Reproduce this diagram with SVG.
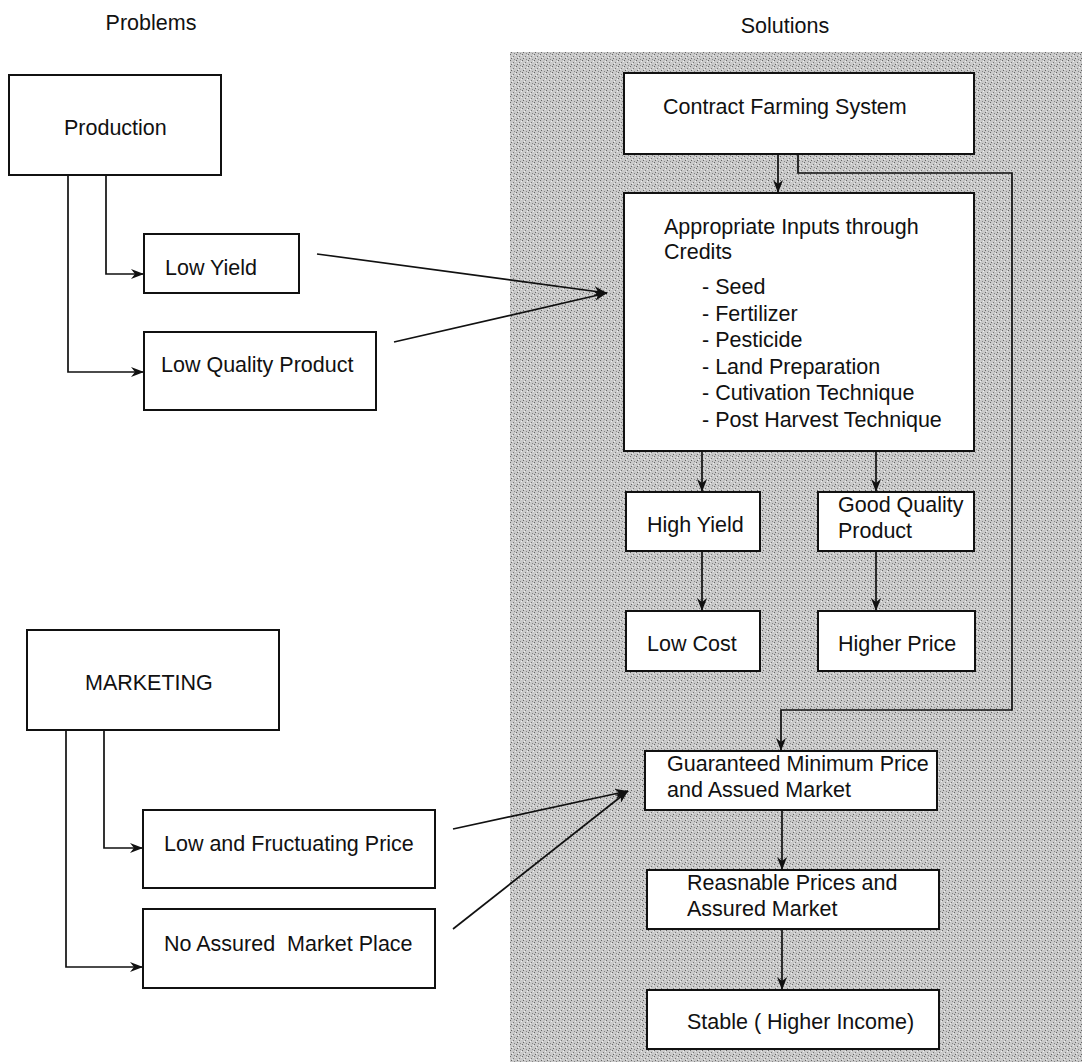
<svg xmlns="http://www.w3.org/2000/svg" width="1082" height="1062" viewBox="0 0 1082 1062">
<style>
.box{fill:#fff;stroke:#111;stroke-width:2}
.t{font-family:"Liberation Sans",Arial,sans-serif;font-size:21.5px;fill:#111;white-space:pre}
.c{fill:none;stroke:#111;stroke-width:1.7}
</style>
<defs>
<pattern id="stip" width="6" height="6" patternUnits="userSpaceOnUse">
<rect width="6" height="6" fill="#c9c9c9"/>
<rect x="0" y="0" width="1" height="1" fill="#666"/>
<rect x="3" y="2" width="1" height="1" fill="#777"/>
<rect x="1" y="4" width="1" height="1" fill="#666"/>
<rect x="4" y="5" width="1" height="1" fill="#888"/>
<rect x="5" y="1" width="1" height="1" fill="#eee"/>
<rect x="2" y="3" width="1" height="1" fill="#eee"/>
</pattern>
<marker id="ah" markerUnits="userSpaceOnUse" markerWidth="14" markerHeight="10" refX="13" refY="5" orient="auto">
<path d="M0,0 L13,5 L0,10 L4,5 Z" fill="#111"/>
</marker>
</defs>
<rect x="0" y="0" width="1082" height="1062" fill="#fff"/>
<rect x="510" y="52" width="572" height="1010" fill="url(#stip)"/>
<text class="t" x="151" y="30" text-anchor="middle">Problems</text>
<text class="t" x="785" y="33" text-anchor="middle">Solutions</text>
<g id="connectors">
<polyline class="c" points="106,175 106,274 144,274" marker-end="url(#ah)"/>
<polyline class="c" points="68,175 68,372 144,372" marker-end="url(#ah)"/>
<line class="c" x1="317" y1="254" x2="607" y2="293" marker-end="url(#ah)"/>
<line class="c" x1="394" y1="342" x2="607" y2="293" marker-end="url(#ah)"/>
<polyline class="c" points="104,730 104,848 143,848" marker-end="url(#ah)"/>
<polyline class="c" points="66,730 66,967 143,967" marker-end="url(#ah)"/>
<line class="c" x1="453" y1="829" x2="628" y2="791" marker-end="url(#ah)"/>
<line class="c" x1="453" y1="929" x2="628" y2="791" marker-end="url(#ah)"/>
<line class="c" x1="778" y1="154" x2="778" y2="193" marker-end="url(#ah)"/>
<polyline class="c" points="798,154 798,173 1012,173 1012,710 781,710 781,751" marker-end="url(#ah)"/>
<line class="c" x1="702" y1="451" x2="702" y2="492" marker-end="url(#ah)"/>
<line class="c" x1="876" y1="451" x2="876" y2="492" marker-end="url(#ah)"/>
<line class="c" x1="702" y1="551" x2="702" y2="611" marker-end="url(#ah)"/>
<line class="c" x1="876" y1="551" x2="876" y2="611" marker-end="url(#ah)"/>
<line class="c" x1="782" y1="810" x2="782" y2="870" marker-end="url(#ah)"/>
<line class="c" x1="782" y1="929" x2="782" y2="990" marker-end="url(#ah)"/>
</g>
<g id="production"><rect class="box" x="9" y="75" width="212" height="100"/><text class="t" x="64" y="135">Production</text></g>
<g id="low-yield"><rect class="box" x="144" y="234" width="155" height="59"/><text class="t" x="165" y="275">Low Yield</text></g>
<g id="low-quality"><rect class="box" x="144" y="332" width="232" height="78"/><text class="t" x="161" y="372">Low Quality Product</text></g>
<g id="marketing"><rect class="box" x="27" y="630" width="252" height="100"/><text class="t" x="85" y="690">MARKETING</text></g>
<g id="low-price"><rect class="box" x="143" y="810" width="292" height="78"/><text class="t" x="164" y="851">Low and Fructuating Price</text></g>
<g id="no-market"><rect class="box" x="143" y="909" width="292" height="79"/><text class="t" x="164" y="951" xml:space="preserve">No Assured  Market Place</text></g>
<g id="contract"><rect class="box" x="624" y="73" width="350" height="81"/><text class="t" x="663" y="114">Contract Farming System</text></g>
<g id="inputs"><rect class="box" x="624" y="193" width="350" height="258"/>
<text class="t" x="664" y="234">Appropriate Inputs through</text>
<text class="t" x="664" y="259">Credits</text>
<text class="t" x="702" y="294">- Seed</text>
<text class="t" x="702" y="321">- Fertilizer</text>
<text class="t" x="702" y="347">- Pesticide</text>
<text class="t" x="702" y="374">- Land Preparation</text>
<text class="t" x="702" y="400">- Cutivation Technique</text>
<text class="t" x="702" y="427">- Post Harvest Technique</text>
</g>
<g id="high-yield"><rect class="box" x="626" y="492" width="134" height="59"/><text class="t" x="647" y="532">High Yield</text></g>
<g id="good-quality"><rect class="box" x="818" y="492" width="156" height="59"/><text class="t" x="838" y="512">Good Quality</text><text class="t" x="838" y="538">Product</text></g>
<g id="low-cost"><rect class="box" x="626" y="611" width="134" height="60"/><text class="t" x="647" y="651">Low Cost</text></g>
<g id="higher-price"><rect class="box" x="818" y="611" width="157" height="60"/><text class="t" x="838" y="651">Higher Price</text></g>
<g id="guaranteed"><rect class="box" x="645" y="751" width="292" height="59"/><text class="t" x="667" y="771">Guaranteed Minimum Price</text><text class="t" x="667" y="797">and Assued Market</text></g>
<g id="reasonable"><rect class="box" x="647" y="870" width="292" height="59"/><text class="t" x="687" y="890">Reasnable Prices and</text><text class="t" x="687" y="916">Assured Market</text></g>
<g id="stable"><rect class="box" x="647" y="990" width="292" height="59"/><text class="t" x="687" y="1029">Stable ( Higher Income)</text></g>
</svg>
